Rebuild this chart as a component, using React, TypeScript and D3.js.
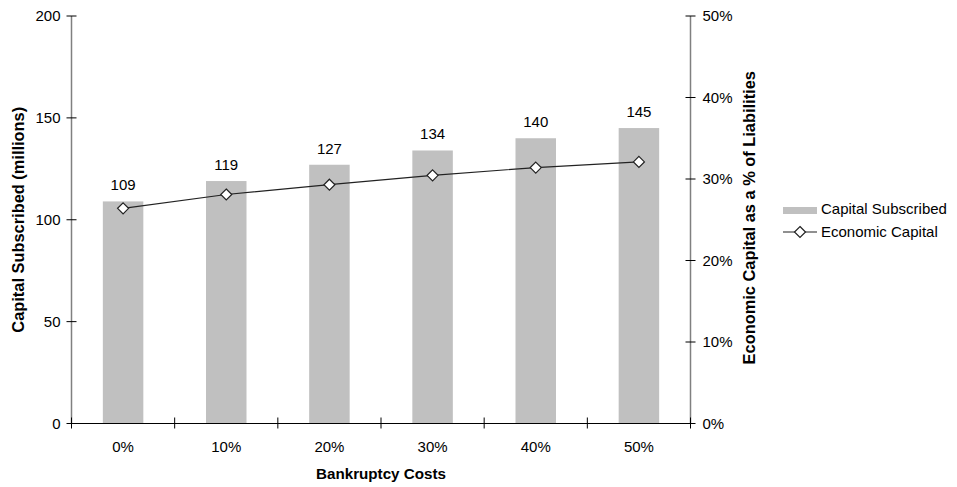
import React from "react";
import * as d3 from "d3";

const categories = ["0%", "10%", "20%", "30%", "40%", "50%"];
const capitalSubscribed = [109, 119, 127, 134, 140, 145];
const economicCapital = [26.4, 28.1, 29.3, 30.45, 31.4, 32.1];
const leftTicks = [0, 50, 100, 150, 200];
const rightTicks = [0, 10, 20, 30, 40, 50];

const W = 957, H = 487;
const L = 71.5, R = 690.5, T = 16, B = 423.5;
const FONT = "'Liberation Sans', Arial, sans-serif";
const FS = 15;

export default function App() {
  const yL = d3.scaleLinear().domain([0, 200]).range([B, T]);
  const yR = d3.scaleLinear().domain([0, 50]).range([B, T]);
  const bandStep = (R - L) / categories.length;
  const cx = (i: number) => L + bandStep * (i + 0.5);
  const barW = 40.5;
  const line = d3.line<number>().x((_, i) => cx(i)).y((d) => yR(d));
  const diamond = (px: number, py: number, r = 5.5) =>
    `M${px},${py - r}L${px + r},${py}L${px},${py + r}L${px - r},${py}Z`;

  return (
    <svg width={W} height={H} style={{ position: "absolute", left: 0, top: 0, background: "#fff" }} fontFamily={FONT}>
      {capitalSubscribed.map((v, i) => (
        <rect key={i} x={cx(i) - barW / 2} y={yL(v)} width={barW} height={B - yL(v)} fill="#c0c0c0" />
      ))}
      {capitalSubscribed.map((v, i) => (
        <text key={i} x={cx(i)} y={yL(v) - 11} textAnchor="middle" fontSize={FS} fill="#000">{v}</text>
      ))}
      <line x1={L} x2={L} y1={T} y2={B} stroke="#808080" strokeWidth={1.5} />
      {leftTicks.map((t) => (
        <g key={t}>
          <line x1={L - 5} x2={L + 5} y1={yL(t)} y2={yL(t)} stroke="#000" />
          <text x={60.5} y={yL(t)} dy="0.36em" textAnchor="end" fontSize={FS}>{t}</text>
        </g>
      ))}
      <line x1={R} x2={R} y1={T} y2={B} stroke="#808080" strokeWidth={1.5} />
      {rightTicks.map((t) => (
        <g key={t}>
          <line x1={R - 5} x2={R + 5} y1={yR(t)} y2={yR(t)} stroke="#000" />
          <text x={702.5} y={yR(t)} dy="0.36em" textAnchor="start" fontSize={FS}>{t}%</text>
        </g>
      ))}
      <line x1={L} x2={R} y1={B} y2={B} stroke="#000" />
      {d3.range(categories.length + 1).map((i) => (
        <line key={i} x1={L + bandStep * i} x2={L + bandStep * i} y1={B - 6} y2={B + 5} stroke="#000" />
      ))}
      {categories.map((c, i) => (
        <text key={c} x={cx(i)} y={451.5} textAnchor="middle" fontSize={FS}>{c}</text>
      ))}
      <path d={line(economicCapital) || ""} fill="none" stroke="#222" strokeWidth={1.2} />
      {economicCapital.map((v, i) => (
        <path key={i} d={diamond(cx(i), yR(v))} fill="#fff" stroke="#222" strokeWidth={1.2} />
      ))}
      <text x={(L + R) / 2} y={479} textAnchor="middle" fontSize={15.2} fontWeight="bold">Bankruptcy Costs</text>
      <text transform={`translate(23.5,${(T + B) / 2}) rotate(-90)`} textAnchor="middle" fontSize={16.4} fontWeight="bold">Capital Subscribed (millions)</text>
      <text transform={`translate(755,${(T + B) / 2 - 2}) rotate(-90)`} textAnchor="middle" fontSize={16.4} fontWeight="bold">Economic Capital as a % of Liabilities</text>
      <rect x={783} y={207} width={34} height={7} fill="#c0c0c0" />
      <text x={821} y={213.5} fontSize={FS}>Capital Subscribed</text>
      <line x1={783} x2={817} y1={232} y2={232} stroke="#222" strokeWidth={1.2} />
      <path d={diamond(800, 232)} fill="#fff" stroke="#222" strokeWidth={1.2} />
      <text x={821} y={237} fontSize={FS}>Economic Capital</text>
    </svg>
  );
}
